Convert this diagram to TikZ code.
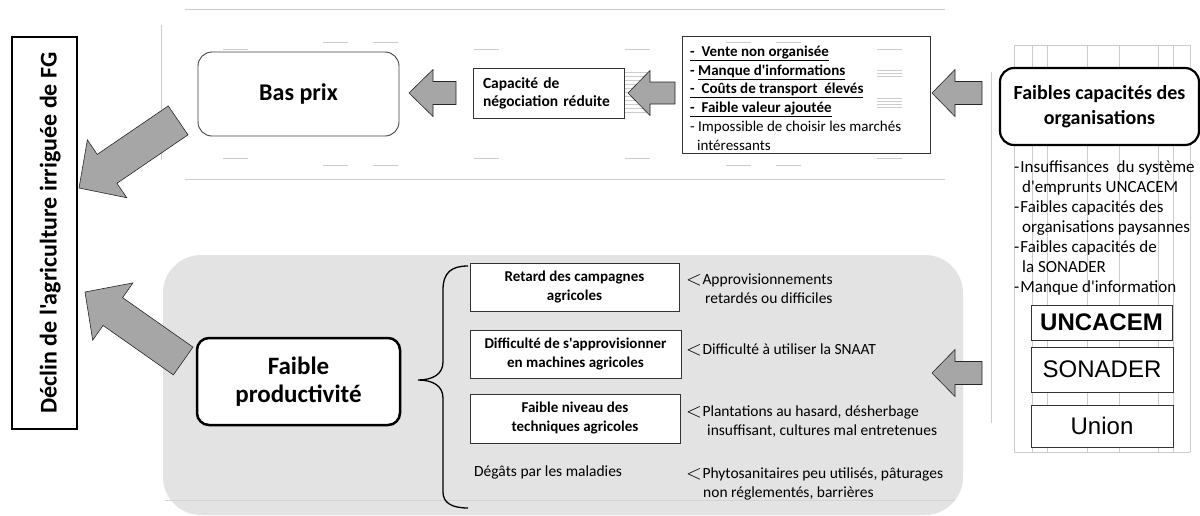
\documentclass[tikz,border=0pt]{standalone}
\usepackage{fontspec}
\setmainfont{Carlito}[Ligatures=TeXOff]
\newfontfamily\arialfont{Liberation Sans}
\newcommand\fsz[2]{\fontsize{#1}{#2}\selectfont}
\newcommand\lessmark{\raisebox{-0.8pt}{\fontsize{21}{21}\selectfont$<$}\hspace{0.5pt}}
\begin{document}
\begin{tikzpicture}[x=1pt,y=-1pt,
  faint/.style={draw=black!20, line width=0.7pt},
  thinbox/.style={draw=black!80, line width=0.8pt, fill=white, inner sep=0pt},
  roundthick/.style={draw=black, line width=2.3pt, rounded corners=13pt, fill=white, inner sep=0pt, align=center},
  arrowbody/.style={fill=black!35, draw=black!85, line width=0.6pt, line join=miter},
  pics/blockarrow/.style args={#1/#2/#3/#4}{code={
    \draw[arrowbody] (0,0) -- (#2,#3) -- (#2,#4) -- (#1,#4) -- (#1,-#4) -- (#2,-#4) -- (#2,-#3) -- cycle;}},
  plaintext/.style={inner sep=0pt, align=left}
]
\useasboundingbox (0,0) rectangle (1200,515);
\clip (0,0) rectangle (1200,515);

% guide lines of the upper band
\draw[faint] (185,9) -- (945,9);
\draw[faint] (185,179) -- (945,179);
\draw[faint] (161,25) -- (161,160);
\foreach \x/\y in {223/49,323/42,373/42,474/49,625/49,726/42,776/42,877/49,
                   223/158,323/165,373/165,474/158,625/158,726/165,776/165,877/158}
  \draw[faint] (\x,\y) -- ++(25,0);
\foreach \y in {72,76,...,112}
  \draw[faint] (625,\y) -- (650,\y);
\foreach \y in {70,73,76,98,101,104,107}
  \draw[faint] (877,\y) -- (902,\y);

% grid of the right column
\foreach \x in {1014,1032,1047,1087,1119,1158,1173,1190}
  \draw[faint] (\x,45) -- (\x,452);
\draw[faint] (1014,45) -- (1190,45);
\draw[faint] (1014,452) -- (1190,452);
\draw[faint] (991,72) -- (991,423);

% shaded band of the productivity branch
\fill[black!11, rounded corners=38pt] (163,255) rectangle (963,515);
\draw[black!17, line width=0.6pt] (165,500) -- (955,500);

% main outcome
\node[draw=black, line width=2.2pt, rotate=90, minimum width=392pt, minimum height=65pt,
      inner sep=0pt, text height=26pt, text depth=2pt, font=\fsz{24}{24}\bfseries]
      (decl) at (44.5,233) {Déclin de l'agriculture irriguée de FG};

% price branch
\node[draw=black!75, line width=0.9pt, rounded corners=14pt, fill=white,
      minimum width=201pt, minimum height=84pt, font=\fsz{24}{24}\bfseries]
      (bas) at (298.5,94) {Bas prix};
\node[thinbox, text width=131pt, inner xsep=10pt, minimum height=50pt, align=left,
      font=\fsz{15.5}{18}\bfseries]
      (cap) at (548.5,93) {Capacité de\\négociation réduite};
\node[draw=black!80, line width=0.8pt, minimum width=248pt, minimum height=117pt]
      (lst) at (806,94.5) {};
\node[plaintext, anchor=west, font=\fsz{15}{18.8}\bfseries] (lsttxt) at (690,98)
  {\underline{-\ \ Vente non organisée}\\
   -\ \underline{Manque d'informations}\\
   \underline{-\ \ Coûts de transport\ \ élevés}\\
   \underline{-\ \ Faible valeur ajoutée}\\
   {\mdseries - Impossible de choisir les marchés}\\
   {\mdseries\hspace*{7pt}intéressants}};

% organisations column
\node[roundthick, line width=2.2pt, rounded corners=14pt, minimum width=199pt, minimum height=77pt,
      font=\fsz{20}{25}\bfseries]
      (fcap) at (1099.5,106.5) {Faibles capacités des\\organisations};
\node[plaintext, anchor=west, font=\fsz{17}{20}] (orgtxt) at (1014,228)
  {-\hspace{1pt}Insuffisances\ \ du système\\
   \hspace*{8pt}d'emprunts UNCACEM\\
   -\hspace{1pt}Faibles capacités des\\
   \hspace*{8pt}organisations paysannes\\
   -\hspace{1pt}Faibles capacités de\\
   \hspace*{8pt}la SONADER\\
   -\hspace{1pt}Manque d'information};
\node[thinbox, minimum width=141pt, minimum height=35pt, font=\arialfont\fsz{24}{24}\bfseries]
      (unc) at (1101.5,322.5) {UNCACEM};
\node[thinbox, minimum width=142pt, minimum height=45pt, font=\arialfont\fsz{24}{24}]
      (son) at (1102,369.5) {SONADER};
\node[thinbox, minimum width=142pt, minimum height=42pt, font=\arialfont\fsz{24}{24}]
      (uni) at (1102,426) {Union};

% productivity branch
\node[roundthick, line width=2.5pt, rounded corners=12pt, minimum width=203pt, minimum height=87pt,
      font=\fsz{25}{28}\bfseries]
      (prod) at (298.5,381.5) {Faible\\productivité};
\node[thinbox, minimum width=209pt, minimum height=48pt, align=center, font=\fsz{15}{19}\bfseries]
      (ret) at (574.5,287) {Retard des campagnes\\agricoles};
\node[thinbox, minimum width=211pt, minimum height=48pt, align=center, font=\fsz{15}{19}\bfseries]
      (dif) at (575.5,354) {Difficulté de s'approvisionner\\en machines agricoles};
\node[thinbox, minimum width=210pt, minimum height=49pt, align=center, font=\fsz{15}{19}\bfseries]
      (niv) at (575,418.5) {Faible niveau des\\techniques agricoles};
\node[plaintext, anchor=west, font=\fsz{15.5}{19}] (deg) at (474,472) {Dégâts par les maladies};

\node[plaintext, anchor=west, font=\fsz{15.5}{19}] (c1) at (686,288.5)
  {\lessmark Approvisionnements\\\hspace*{19pt}retardés ou difficiles};
\node[plaintext, anchor=west, font=\fsz{15.5}{19}] (c2) at (686,350)
  {\lessmark Difficulté à utiliser la SNAAT};
\node[plaintext, anchor=west, font=\fsz{15.5}{19}] (c3) at (686,422)
  {\lessmark Plantations au hasard, désherbage\\\hspace*{21pt}insuffisant, cultures mal entretenues};
\node[plaintext, anchor=west, font=\fsz{15.5}{19}] (c4) at (686,484)
  {\lessmark Phytosanitaires peu utilisés, pâturages\\\hspace*{17pt}non réglementés, barrières};

% brace grouping the causes of low productivity
\draw[line width=1.3pt] (468,266) .. controls (452,266) and (443,272) .. (443,290)
  -- (443,362) .. controls (443,374) and (433,380) .. (418,380)
  .. controls (433,380) and (443,386) .. (443,398)
  -- (443,492) .. controls (443,503) and (452,508) .. (468,508);

% block arrows (tip positions)
\coordinate (t1) at (409,93);
\coordinate (t2) at (628,93);
\coordinate (t3) at (932,93);
\coordinate (t4) at (932,373);
\coordinate (t5) at (79,188);
\coordinate (t6) at (85,292);
\pic at (t1) {blockarrow=47/24/23.5/11.5};
\pic at (t2) {blockarrow=47/22/22.5/11};
\pic at (t3) {blockarrow=50/23/23.5/11.5};
\pic at (t4) {blockarrow=50/23/23.5/11.5};
\pic[rotate=34.3] at (t5) {blockarrow=120/34/35/17.5};
\pic[rotate=-35.1] at (t6) {blockarrow=120/34/35/17};
\end{tikzpicture}
\end{document}
